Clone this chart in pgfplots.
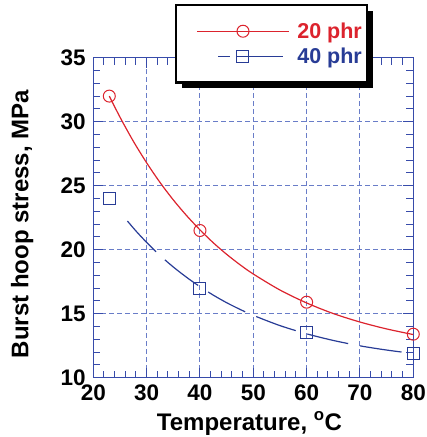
\documentclass[border=0pt]{standalone}
\usepackage{fontspec}
\setmainfont{Liberation Sans}
\usepackage{pgfplots}
\pgfplotsset{compat=1.18}
\usetikzlibrary{shadows}
\makeatletter
\tikzset{nopre/.code={\let\tikz@preactions\pgfutil@empty}}
\makeatother
\definecolor{myred}{RGB}{220,35,45}
\definecolor{myblue}{RGB}{40,60,150}
\definecolor{axblue}{RGB}{55,75,170}
\definecolor{gridblue}{RGB}{105,125,200}
\newcommand{\tickf}{\fontsize{22.5}{26}\selectfont\bfseries}
\newcommand{\labf}{\fontsize{24}{28}\selectfont\bfseries}
\newcommand{\legf}{\fontsize{21.5}{25}\selectfont\bfseries}

\begin{document}
\begin{tikzpicture}
\begin{axis}[
 name=ax,
 scale only axis, width=320pt, height=320pt,
 xmin=20, xmax=80, ymin=10, ymax=35,
 xtick={20,30,...,80}, ytick={10,15,...,35},
 minor x tick num=4, minor y tick num=4,
 xtick pos=both, ytick pos=both, tick align=inside,
 major tick length=10pt, minor tick length=7pt,
 every tick/.style={axblue, line width=1pt},
 axis line style={axblue, line width=1.5pt},
 grid=major,
 grid style={gridblue, dash pattern=on 5pt off 3pt, line width=1pt},
 major grid style={gridblue, dash pattern=on 5pt off 3pt, line width=1pt},
 tick label style={font=\tickf},
 yticklabel style={xshift=-4pt},
 xticklabel style={yshift=-4pt},
 /pgf/number format/assume math mode=true,
 xlabel={Temperature, \textsuperscript{o}C},
 ylabel={Burst hoop stress, MPa},
 label style={font=\labf},
 xlabel style={at={(axis description cs:0.488,-0.143)}, anchor=center},
 ylabel style={at={(axis description cs:-0.222,0.48)}, anchor=center},
 legend image code/.code={\path (0pt,0pt) (111pt,0pt);
   \draw[nopre, mark repeat=2, mark phase=2, #1] plot coordinates {(19.5pt,0pt) (65.25pt,0pt) (111pt,0pt)};},
 legend style={at={(axis description cs:0.255,1.168)}, anchor=north west,
   draw=black, line width=2.5pt, fill=white,
   drop shadow={shadow xshift=6pt, shadow yshift=-6pt, fill=black, opacity=1},
   inner xsep=1pt, inner ysep=15.5pt, row sep=4pt, column sep=6pt, font=\legf},
 legend cell align=left,
]
% fitted curves
\addplot[myred, line width=1.2pt, smooth, forget plot] coordinates {
 (23,32.00) (25,30.36) (27.5,28.48) (30,26.79) (32.5,25.26) (35,23.89)
 (37.5,22.66) (40,21.55) (42.5,20.54) (45,19.64) (47.5,18.83) (50,18.10)
 (55,16.85) (60,15.84) (65,15.01) (70,14.35) (75,13.81) (80,13.37)};
\addplot[myblue, line width=1.2pt, smooth, dash pattern=on 42pt off 12pt, forget plot] coordinates {
 (26.4,22.24) (28,21.46) (30,20.57) (32.5,19.55) (35,18.65) (37.5,17.84)
 (40,17.11) (42.5,16.45) (45,15.86) (47.5,15.34) (50,14.87) (55,14.07)
 (60,13.43) (65,12.91) (70,12.49) (75,12.16) (80,11.89)};
% measured points
\addplot[only marks, mark=o, mark size=6pt, myred, line width=1pt, forget plot] coordinates {
 (23,32.0) (40,21.5) (60,15.9) (80,13.4)};
\addplot[only marks, mark=square, mark size=6pt, myblue, line width=1pt, forget plot] coordinates {
 (23,24.0) (40,17.0) (60,13.5) (80,11.9)};
% legend
\addlegendimage{myred, line width=1.2pt, mark=o, mark size=6pt, mark options={line width=1pt}}
\addlegendentry{\textcolor{myred}{20 phr}\hspace*{2pt}}
\addlegendimage{myblue, line width=1.2pt, dash pattern=on 0pt off 21pt on 12pt off 7pt on 46pt off 50pt, mark=square, mark size=6pt, mark options={solid, line width=1pt}}
\addlegendentry{\textcolor{myblue}{40 phr}\hspace*{2pt}}
\end{axis}
\pgfresetboundingbox
\path (ax.south west) ++(-93.3pt,-59.3pt) rectangle ++(427pt,437pt);
\end{tikzpicture}
\end{document}
